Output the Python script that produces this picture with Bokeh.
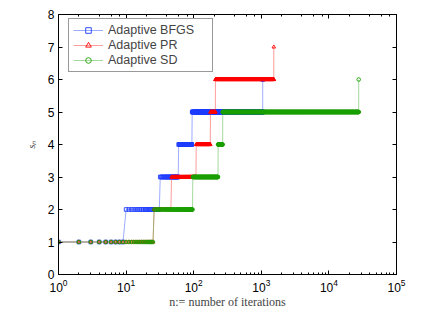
import numpy as np
from bokeh.plotting import figure
from bokeh.models import (LogAxis, LinearAxis, FixedTicker, LogTicker, Range1d,
                          CustomJSTickFormatter)
from bokeh.embed import file_html
from bokeh.resources import INLINE

# ---- data: iteration at which each level s_n is first reached ----
bfgs_start = [1, 10, 32, 60, 95, 1050]
bfgs_level = [1, 2, 3, 4, 5, 6]
bfgs_last = 1050

pr_start = [1, 26, 47, 109, 177, 210, 1530]
pr_level = [1, 2, 3, 4, 5, 6, 7]
pr_last = 1530

sd_start = [1, 26, 97, 230, 269, 27600]
sd_level = [1, 2, 3, 4, 5, 6]
sd_last = 27600

series = [
    ("Adaptive BFGS", bfgs_start, bfgs_level, bfgs_last, "square", "#1f3dff", "#3050ff"),
    ("Adaptive PR", pr_start, pr_level, pr_last, "triangle", "#ff0000", "#ff3030"),
    ("Adaptive SD", sd_start, sd_level, sd_last, "circle", "#1a9e00", "#40b030"),
]

y_ticks = [0, 1, 2, 3, 4, 5, 6, 7, 8]


def expand(start, level, last):
    ends = list(start[1:]) + [last + 1]
    counts = [e - s for s, e in zip(start, ends)]
    n = np.arange(1, last + 1)
    s = np.repeat(level, counts)
    return n, s


p = figure(width=420, height=311, x_axis_type="log",
           x_range=Range1d(1, 1e5), y_range=Range1d(0, 8),
           output_backend="svg", toolbar_location=None,
           min_border_left=58, min_border_right=24,
           min_border_top=14, min_border_bottom=30)
p.grid.visible = False
p.outline_line_color = "black"
p.outline_line_width = 1

for label, start, level, last, marker, mcol, lcol in series:
    n, s = expand(start, level, last)
    p.line(n, s, line_color=lcol, line_width=0.8, line_alpha=0.6, legend_label=label)
    key = np.floor(np.log10(n) * 300).astype(int)
    keep = np.r_[True, key[1:] != key[:-1]] | np.r_[s[1:] != s[:-1], True] | np.r_[True, s[1:] != s[:-1]]
    p.scatter(n[keep], s[keep], marker=marker, size=3.6, fill_color=None,
              line_color=mcol, line_width=0.9, legend_label=label)

font = "Liberation Sans"
xa = p.xaxis[0]
ya = p.yaxis[0]
for ax in (xa, ya):
    ax.axis_line_color = "black"
    ax.major_tick_in = 4
    ax.major_tick_out = 0
    ax.minor_tick_in = 2
    ax.minor_tick_out = 0
    ax.major_label_text_font = font
    ax.major_label_text_font_size = "12px"
    ax.major_label_text_color = "black"
    ax.major_tick_line_color = "black"
    ax.minor_tick_line_color = "black"
ya.ticker = FixedTicker(ticks=y_ticks)
ya.minor_tick_line_color = None
ya.major_label_standoff = 4
xa.major_label_standoff = 4

xa.axis_label = "n:= number of iterations"
xa.axis_label_text_font = "Liberation Serif"
xa.axis_label_text_font_style = "normal"
xa.axis_label_text_font_size = "12px"
xa.axis_label_standoff = 0
ya.axis_label = "sₙ"
ya.axis_label_text_font = "Liberation Serif"
ya.axis_label_text_font_style = "italic"
ya.axis_label_text_font_size = "10px"
ya.axis_label_standoff = 8

top = LogAxis(ticker=LogTicker(), formatter=CustomJSTickFormatter(code="return ''"),
              major_label_standoff=0, major_tick_in=4, major_tick_out=0,
              minor_tick_in=2, minor_tick_out=0, axis_line_color="black")
right = LinearAxis(ticker=FixedTicker(ticks=y_ticks), formatter=CustomJSTickFormatter(code="return ''"),
                   major_label_standoff=0, major_tick_in=4, major_tick_out=0,
                   minor_tick_line_color=None, axis_line_color="black")
p.add_layout(top, "above")
p.add_layout(right, "right")

lg = p.legend[0]
lg.location = (10, 202)
lg.margin = 0
lg.padding = 4
lg.spacing = 1
lg.glyph_width = 30
lg.glyph_height = 14
lg.label_height = 14
lg.label_width = 100
lg.label_standoff = 5
lg.label_text_font = font
lg.label_text_font_size = "12.5px"
lg.border_line_color = "#333333"
lg.border_line_width = 1
lg.background_fill_alpha = 1

open("out.html", "w").write(file_html(p, INLINE))
